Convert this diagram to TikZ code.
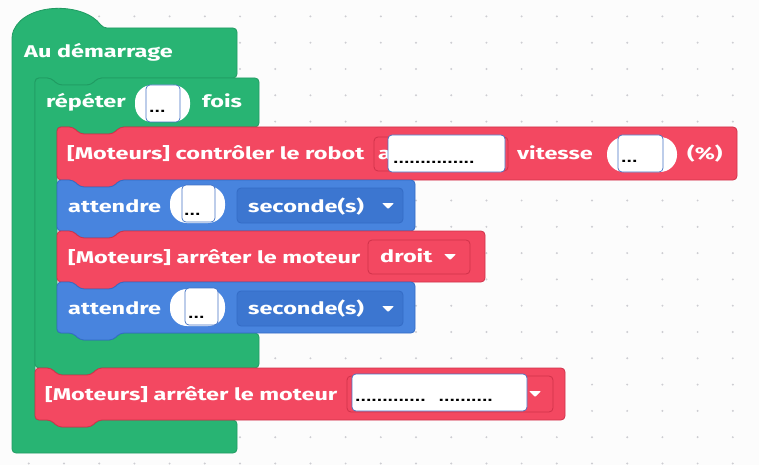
\documentclass[tikz,border=0pt]{standalone}
\usepackage{fontspec}
\setmainfont{Fira Sans}
\newfontfamily\boxfont{Liberation Sans}
\usetikzlibrary{positioning}

\definecolor{hatgreen}{RGB}{40,180,115}
\definecolor{hatgreendk}{RGB}{32,155,98}
\definecolor{motred}{RGB}{243,72,97}
\definecolor{motreddk}{RGB}{208,50,74}
\definecolor{waitblue}{RGB}{72,132,222}
\definecolor{waitbluedk}{RGB}{52,108,198}
\definecolor{boxblue}{RGB}{68,114,196}
\definecolor{griddot}{RGB}{205,205,210}

% white block text, a bit wider than the font
\newcommand{\bt}[1]{\scalebox{1.38}[1]{\bfseries #1}}
% black dots typed in the answer boxes
\newcommand{\dt}[1]{\scalebox{1.3}[1]{\bfseries #1}}

% stack block: notch on top, tab below
\newcommand{\stackblock}[5]{%
  \filldraw[#1] (#2,#3) -- (#2+16,#3) -- (#2+23,#3+7) -- (#2+56,#3+7) -- (#2+63,#3)
    -- (#4,#3) -- (#4,#5) -- (#2+63,#5) -- (#2+56,#5+7) -- (#2+23,#5+7) -- (#2+16,#5)
    -- (#2,#5) -- cycle;}

% little white dropdown triangle
\newcommand{\droparrow}[2]{%
  \fill[white, rounded corners=0.8pt] (#1-6,#2-3) -- (#1+6,#2-3) -- (#1,#2+3) -- cycle;}

\begin{document}
\begin{tikzpicture}[x=1pt,y=-1pt]
    \tikzstyle{blk}=[rounded corners=4pt, line width=0.8pt]
    \tikzstyle{txt}=[anchor=base west, inner sep=0pt, text=white, font=\fontsize{17}{19}\selectfont]
    \tikzstyle{field}=[rounded corners=4pt, line width=0.8pt]
    \tikzstyle{oval}=[fill=white, rounded corners=17pt]
    \tikzstyle{answer}=[draw=boxblue, fill=white, rounded corners=4pt, line width=0.7pt]
    \tikzstyle{dots}=[anchor=base west, inner sep=0pt, font=\boxfont\fontsize{15}{17}\selectfont]

    \fill[white!98!gray] (0,0) rectangle (759,465);
    \useasboundingbox (0,0) rectangle (759,465);

    % workspace grid
    \foreach \i in {0,...,20}
      \foreach \j in {0,...,17}
        \fill[griddot] (28.8+35.2*\i,16.4+26.3*\j) circle (1.1pt);

    % hat block: Au demarrage
    \filldraw[blk, fill=hatgreen, draw=hatgreendk]
      (12,34) .. controls (26,2) and (84,2) .. (103,28) -- (237,28) -- (237,78)
      -- (98,78) -- (91,85) -- (58,85) -- (51,78) -- (35,78) -- (35,420)
      -- (51,420) -- (58,427) -- (91,427) -- (98,420) -- (237,420) -- (237,453)
      -- (12,453) -- cycle;

    % repeat block
    \filldraw[blk, fill=hatgreen, draw=hatgreendk]
      (35,78) -- (51,78) -- (58,85) -- (91,85) -- (98,78) -- (259,78) -- (259,127)
      -- (120,127) -- (113,134) -- (80,134) -- (73,127) -- (57,127) -- (57,333)
      -- (73,333) -- (80,340) -- (113,340) -- (120,333) -- (259,333) -- (259,368)
      -- (98,368) -- (91,375) -- (58,375) -- (51,368) -- (35,368) -- cycle;

    \stackblock{blk, fill=motred, draw=motreddk}{57}{127}{737}{180}
    \stackblock{blk, fill=waitblue, draw=waitbluedk}{57}{180}{415}{231}
    \stackblock{blk, fill=motred, draw=motreddk}{57}{231}{485}{282}
    \stackblock{blk, fill=waitblue, draw=waitbluedk}{57}{282}{415}{333}
    \stackblock{blk, fill=motred, draw=motreddk}{35}{368}{565}{420}

    % dropdown fields
    \filldraw[field, fill=motred, draw=motreddk] (374,137) rectangle (508,171);
    \filldraw[field, fill=waitbluedk!60!waitblue, draw=waitbluedk] (237,188) rectangle (403,223);
    \filldraw[field, fill=motred, draw=motreddk] (368,240) rectangle (470,274);
    \filldraw[field, fill=waitbluedk!60!waitblue, draw=waitbluedk] (237,291) rectangle (403,326);
    \filldraw[field, fill=motred, draw=motreddk] (347,376) rectangle (553,412);

    % number ovals
    \fill[oval] (135,85) rectangle (190,122);
    \fill[oval] (607,137) rectangle (677,172);
    \fill[oval] (170,186) rectangle (225,223);
    \fill[oval] (170,289) rectangle (225,326);

    % block texts
    \node[txt] (start) at (24,58) {\bt{Au démarrage}};
    \node[txt] (rep) at (46,108) {\bt{répéter}};
    \node[txt] (fois) at (202,108) {\bt{fois}};
    \node[txt] (ctrl) at (67,160) {\bt{[Moteurs] contrôler le robot}};
    \begin{scope}
      \clip (370,130) rectangle (388,175);
      \node[txt] (dirpeek) at (378,160) {\bt{a}};
    \end{scope}
    \node[txt] (vit) at (517,160) {\bt{vitesse}};
    \node[txt] (pct) at (687,160) {\bt{(\%)}};
    \node[txt] (waitA) at (68,212) {\bt{attendre}};
    \node[txt] (secA) at (248,212) {\bt{seconde(s)}};
    \node[txt] (stopR) at (68,263) {\bt{[Moteurs] arrêter le moteur}};
    \node[txt] (droit) at (380,262) {\bt{droit}};
    \node[txt] (waitB) at (68,314) {\bt{attendre}};
    \node[txt] (secB) at (248,314) {\bt{seconde(s)}};
    \node[txt] (stop) at (45,400) {\bt{[Moteurs] arrêter le moteur}};

    \droparrow{388}{206}
    \droparrow{450}{257}
    \droparrow{388}{309}
    \droparrow{535}{394}

    % answer boxes
    \filldraw[answer] (146,85) rectangle (180,122);
    \filldraw[answer] (388,135) rectangle (505,172);
    \filldraw[answer] (618,135) rectangle (663,172);
    \filldraw[answer] (182,185) rectangle (215,222);
    \filldraw[answer] (185,288) rectangle (218,325);
    \filldraw[answer] (352,374) rectangle (527,411);

    \node[dots] (nrep) at (149,113) {\dt{...}};
    \node[dots] (ndir) at (393,164) {\dt{...............}};
    \node[dots] (nvit) at (621,162) {\dt{...}};
    \node[dots] (nwaitA) at (184,215) {\dt{...}};
    \node[dots] (nwaitB) at (188,318) {\dt{...}};
    \node[dots] (nstop) at (355,401) {\dt{.............\hspace{10pt}..........}};
\end{tikzpicture}
\end{document}
